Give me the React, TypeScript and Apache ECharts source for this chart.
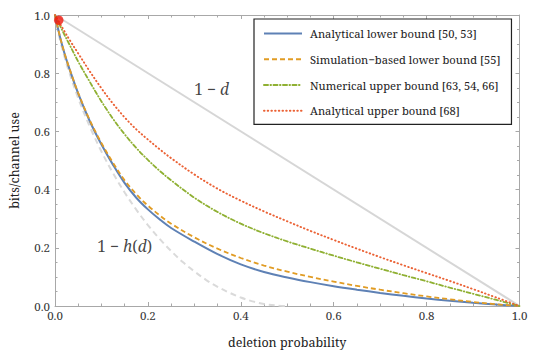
import React, { useEffect, useRef } from "react";
import * as echarts from "echarts";

const FONT = "Noto Serif, DejaVu Serif";
const FRAME = "#a8a8a8";

const dGrid = [0, 0.01, 0.02, 0.03, 0.05, 0.075, 0.1, 0.125, 0.15, 0.175, 0.2, 0.225, 0.25, 0.3, 0.35, 0.4, 0.45, 0.5, 0.55, 0.6, 0.65, 0.7, 0.75, 0.8, 0.85, 0.9, 0.95, 1];
const analyticalLower = [1, 0.93, 0.87, 0.82, 0.73, 0.635, 0.555, 0.485, 0.422, 0.372, 0.332, 0.298, 0.268, 0.221, 0.178, 0.143, 0.117, 0.098, 0.082, 0.068, 0.056, 0.045, 0.035, 0.026, 0.018, 0.011, 0.005, 0];
const simulationLower = [1, 0.93, 0.871, 0.821, 0.732, 0.638, 0.56, 0.492, 0.432, 0.384, 0.345, 0.312, 0.283, 0.236, 0.197, 0.165, 0.139, 0.118, 0.1, 0.084, 0.069, 0.056, 0.044, 0.033, 0.023, 0.014, 0.006, 0];
const numericalUpper = [1, 0.966, 0.933, 0.902, 0.84, 0.77, 0.703, 0.643, 0.59, 0.543, 0.502, 0.465, 0.432, 0.372, 0.323, 0.283, 0.25, 0.222, 0.197, 0.173, 0.15, 0.128, 0.106, 0.085, 0.063, 0.042, 0.021, 0];
const analyticalUpper = [1, 0.972, 0.945, 0.918, 0.868, 0.806, 0.748, 0.695, 0.648, 0.607, 0.572, 0.539, 0.508, 0.452, 0.403, 0.362, 0.325, 0.291, 0.258, 0.227, 0.197, 0.168, 0.14, 0.113, 0.086, 0.058, 0.029, 0];

const hGrid = [0, 0.005, 0.01, 0.02, 0.03, 0.05, 0.075, 0.1, 0.125, 0.15, 0.175, 0.2, 0.225, 0.25, 0.275, 0.3, 0.325, 0.35, 0.375, 0.4, 0.425, 0.45, 0.475, 0.5];
const oneMinusH = [1, 0.955, 0.919, 0.859, 0.806, 0.714, 0.616, 0.531, 0.456, 0.39, 0.331, 0.278, 0.231, 0.189, 0.151, 0.119, 0.09, 0.066, 0.046, 0.029, 0.016, 0.007, 0.002, 0];

const lineOneMinusD = [[0, 1], [1, 0]];
const markerPoint = [[0.008, 0.982]];

const seriesNames = [
  "Analytical lower bound [50, 53]",
  "Simulation\u2212based lower bound [55]",
  "Numerical upper bound [63, 54, 66]",
  "Analytical upper bound [68]",
];
const seriesColors = ["#5E81B5", "#E19C24", "#8FB032", "#EB6235"];

const xTickLabels = ["0.0", "0.2", "0.4", "0.6", "0.8", "1.0"];

const zip = (xs: number[], ys: number[]) => xs.map((x, i) => [x, ys[i]]);

export default function App() {
  const ref = useRef<HTMLDivElement>(null);
  useEffect(() => {
    document.body.style.margin = "0";
    const chart = echarts.init(ref.current!, null, { renderer: "svg" });
    const tickFmt = (v: number) => xTickLabels[Math.round(v * 5)] ?? v.toFixed(1);
    const baseAxis = (pos: string, labels: boolean, margin: number) => ({
      type: "value",
      min: 0,
      max: 1,
      interval: 0.2,
      position: pos,
      axisLine: { show: true, onZero: false, lineStyle: { color: FRAME, width: 1 } },
      axisTick: { show: true, inside: true, length: 4, lineStyle: { color: FRAME } },
      minorTick: { show: true, splitNumber: 4, length: 2.5, lineStyle: { color: FRAME } },
      splitLine: { show: false },
      axisLabel: {
        show: labels,
        formatter: tickFmt,
        color: "#333",
        fontFamily: FONT,
        fontSize: 11.5,
        margin,
      },
    });
    const lineSeries = (name: string, data: number[], color: string, type: any, width: number, cap: string) => ({
      name,
      type: "line",
      data: zip(dGrid, data),
      showSymbol: false,
      symbol: "none",
      smooth: 0.35,
      lineStyle: { color, width, type, cap },
      itemStyle: { color },
      z: 3,
    });
    const option: any = {
      animation: false,
      textStyle: { fontFamily: FONT },
      grid: { left: 49.5, right: 20.5, top: 15, bottom: 52 },
      xAxis: [
        {
          ...baseAxis("bottom", true, 3),
          name: "deletion probability",
          nameLocation: "middle",
          nameGap: 30,
          nameTextStyle: { fontFamily: FONT, fontSize: 12.5, color: "#222" },
        },
        baseAxis("top", false, 3),
      ],
      yAxis: [
        {
          ...baseAxis("left", true, 5),
          name: "bits/channel use",
          nameLocation: "middle",
          nameGap: 34,
          nameTextStyle: { fontFamily: FONT, fontSize: 12.5, color: "#222" },
        },
        baseAxis("right", false, 5),
      ],
      legend: {
        data: seriesNames,
        orient: "vertical",
        left: 254,
        top: 19,
        padding: [9, 11, 8, 9],
        itemWidth: 38,
        itemHeight: 14,
        itemGap: 14.5,
        borderColor: "#222",
        borderWidth: 1.2,
        backgroundColor: "#fff",
        itemStyle: { color: "transparent", borderWidth: 0, opacity: 0 },
        textStyle: { fontFamily: FONT, fontSize: 11.2, color: "#222", padding: [0, 0, 0, 3] },
      },
      series: [
        {
          name: "1-d",
          type: "line",
          data: lineOneMinusD,
          showSymbol: false,
          symbol: "none",
          lineStyle: { color: "#d6d6d6", width: 2 },
          z: 1,
          silent: true,
        },
        {
          name: "1-h(d)",
          type: "line",
          data: zip(hGrid, oneMinusH),
          showSymbol: false,
          symbol: "none",
          smooth: 0.35,
          lineStyle: { color: "#dadada", width: 2, type: [6, 4] },
          z: 1,
          silent: true,
        },
        lineSeries(seriesNames[0], analyticalLower, seriesColors[0], "solid", 2, "butt"),
        lineSeries(seriesNames[1], simulationLower, seriesColors[1], [5, 3], 1.8, "butt"),
        lineSeries(seriesNames[2], numericalUpper, seriesColors[2], [4, 2.5, 0.5, 2.5], 1.8, "round"),
        lineSeries(seriesNames[3], analyticalUpper, seriesColors[3], [0.5, 3.2], 1.9, "round"),
        {
          name: "marker",
          type: "scatter",
          data: markerPoint,
          symbolSize: 9.5,
          itemStyle: { color: "#f0180c" },
          z: 10,
          silent: true,
        },
        {
          name: "labels",
          type: "scatter",
          symbolSize: 0,
          silent: true,
          z: 5,
          data: [
            { value: [0.337, 0.746], label: { formatter: "{n|1 \u2212 }{i|d}" } },
            { value: [0.15, 0.206], label: { formatter: "{n|1 \u2212 }{i|h}{n|(}{i|d}{n|)}" } },
          ],
          label: {
            show: true,
            position: "inside",
            color: "#111",
            rich: {
              n: { fontFamily: FONT, fontSize: 15.5, color: "#111" },
              i: { fontFamily: FONT, fontSize: 15.5, fontStyle: "italic", color: "#111" },
            },
          },
        },
      ],
    };
    chart.setOption(option);
    return () => chart.dispose();
  }, []);
  return <div ref={ref} style={{ width: 540, height: 358 }} />;
}
